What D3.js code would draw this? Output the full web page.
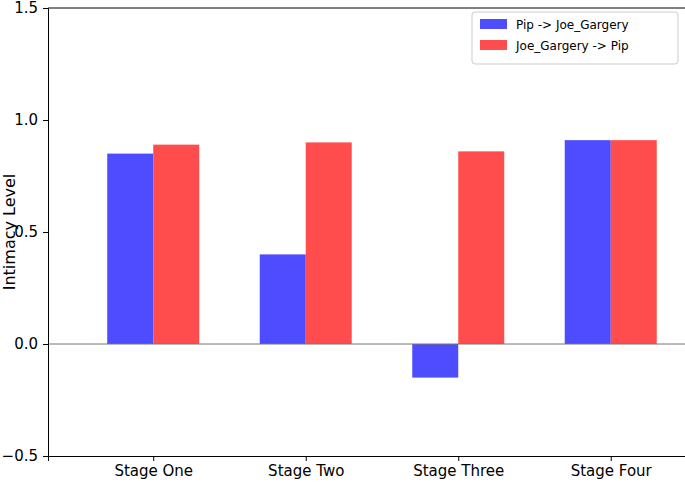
<!DOCTYPE html>
<html><head><meta charset="utf-8">
<script src="https://cdn.jsdelivr.net/npm/d3@7"></script>
<style>body{margin:0;background:#fff}svg{font-family:"DejaVu Sans",sans-serif}</style>
</head><body>
<div class="chart"></div>
<script>
const stages = ["Stage One", "Stage Two", "Stage Three", "Stage Four"];
const pipToJoe = [0.85, 0.40, -0.15, 0.91];
const joeToPip = [0.89, 0.90, 0.86, 0.91];
const seriesNames = ["Pip -> Joe_Gargery", "Joe_Gargery -> Pip"];
const seriesColors = ["#4d4dff", "#ff4d4d"];
const yTicks = [-0.5, 0.0, 0.5, 1.0, 1.5];

const width = 685, height = 485;
const margin = {left: 48, right: -2, top: 8, bottom: 29};
const barW = 46;

const svg = d3.select(".chart").append("svg")
    .attr("width", width).attr("height", height);

const x = d3.scaleLinear()
    .domain([-0.69, 3.5])
    .range([margin.left, width - margin.right]);
const y = d3.scaleLinear()
    .domain([-0.5, 1.5])
    .range([height - margin.bottom, margin.top]);

// bars
[pipToJoe, joeToPip].forEach((vals, s) => {
    svg.selectAll("rect.s" + s)
        .data(vals)
        .join("rect")
        .attr("class", "s" + s)
        .attr("x", (d, i) => x(i) + (s === 0 ? -barW : 0))
        .attr("width", barW)
        .attr("y", d => y(Math.max(0, d)))
        .attr("height", d => Math.abs(y(d) - y(0)))
        .attr("fill", seriesColors[s]);
});

// zero line
svg.append("line")
    .attr("x1", margin.left).attr("x2", width)
    .attr("y1", y(0)).attr("y2", y(0))
    .attr("stroke", "#777").attr("stroke-width", 1);

// axes
svg.append("g")
    .attr("transform", `translate(${margin.left},0)`)
    .call(d3.axisLeft(y).tickValues(yTicks).tickFormat(d => d < 0 ? "\u2212" + Math.abs(d).toFixed(1) : d.toFixed(1)).tickSizeOuter(0).tickSize(5).tickPadding(5))
    .call(g => g.selectAll("text").attr("font-size", 15).attr("fill", "#000").attr("font-family", "DejaVu Sans"))
    .call(g => g.select(".domain").attr("stroke", "#000"));

svg.append("g")
    .attr("transform", `translate(0,${height - margin.bottom})`)
    .call(d3.axisBottom(x).tickValues(d3.range(stages.length)).tickFormat(i => stages[i]).tickSizeOuter(0).tickSize(5).tickPadding(4))
    .call(g => g.selectAll("text").attr("font-size", 15).attr("fill", "#000").attr("font-family", "DejaVu Sans"))
    .call(g => g.select(".domain").attr("stroke", "#000"));

// frame top/right
svg.append("line").attr("x1", margin.left).attr("x2", width).attr("y1", margin.top).attr("y2", margin.top).attr("stroke", "#000");

svg.append("text")
    .attr("transform", `translate(15,${(margin.top + height - margin.bottom) / 2}) rotate(-90)`)
    .attr("text-anchor", "middle")
    .attr("font-size", 16)
    .text("Intimacy Level");

// legend
const lg = svg.append("g").attr("transform", "translate(472,12)");
lg.append("rect").attr("width", 206).attr("height", 52).attr("rx", 3)
    .attr("fill", "#fff").attr("stroke", "#ccc");
seriesNames.forEach((n, i) => {
    lg.append("rect").attr("x", 8).attr("y", 7 + i * 21).attr("width", 27).attr("height", 10).attr("fill", seriesColors[i]);
    lg.append("text").attr("x", 44).attr("y", 17 + i * 21).attr("font-size", 12).text(n);
});
</script>
</body></html>
